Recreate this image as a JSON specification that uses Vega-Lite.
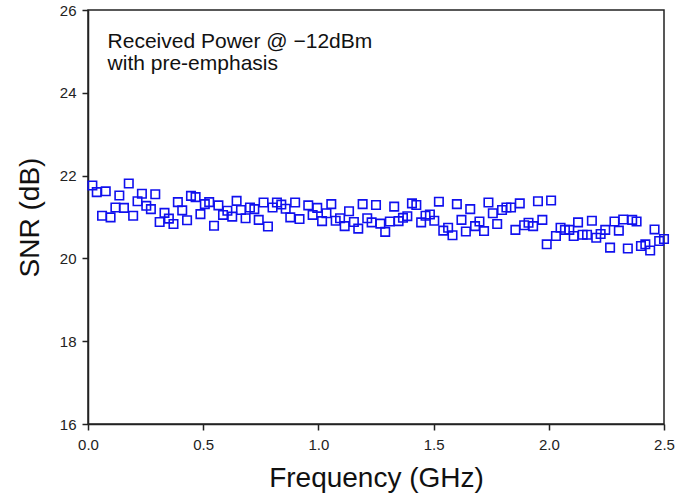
{
  "$schema": "https://vega.github.io/schema/vega-lite/v6.json",
  "width": 576,
  "height": 414,
  "autosize": {"type": "none"},
  "padding": {"left": 88, "top": 10, "right": 29, "bottom": 69},
  "background": "white",
  "config": {
    "view": {"stroke": "#222", "strokeWidth": 1.5},
    "font": "Liberation Sans",
    "axis": {
      "grid": false,
      "domainColor": "#222",
      "domainWidth": 1.5,
      "tickColor": "#222",
      "tickWidth": 1.5,
      "tickSize": 6,
      "labelFlush": false,
      "labelFont": "Liberation Sans",
      "labelFontSize": 15,
      "labelColor": "#222",
      "titleFont": "Liberation Sans",
      "titleFontSize": 28,
      "titleFontWeight": "normal",
      "titleColor": "#111"
    }
  },
  "layer": [
    {
      "data": {"values": [
        {"f":0.019,"snr":21.76},{"f":0.038,"snr":21.60},{"f":0.061,"snr":21.03},{"f":0.077,"snr":21.62},
        {"f":0.098,"snr":20.99},{"f":0.119,"snr":21.23},{"f":0.136,"snr":21.52},{"f":0.156,"snr":21.22},
        {"f":0.177,"snr":21.81},{"f":0.196,"snr":21.03},{"f":0.215,"snr":21.38},{"f":0.234,"snr":21.56},
        {"f":0.253,"snr":21.27},{"f":0.273,"snr":21.19},{"f":0.292,"snr":21.55},{"f":0.311,"snr":20.88},
        {"f":0.332,"snr":21.10},{"f":0.351,"snr":20.96},{"f":0.371,"snr":20.83},{"f":0.390,"snr":21.36},
        {"f":0.409,"snr":21.16},{"f":0.430,"snr":20.92},{"f":0.447,"snr":21.51},{"f":0.467,"snr":21.48},
        {"f":0.488,"snr":21.07},{"f":0.507,"snr":21.31},{"f":0.526,"snr":21.36},{"f":0.547,"snr":20.79},
        {"f":0.566,"snr":21.28},{"f":0.586,"snr":21.05},{"f":0.605,"snr":21.15},{"f":0.626,"snr":21.01},
        {"f":0.645,"snr":21.39},{"f":0.664,"snr":21.17},{"f":0.684,"snr":20.97},{"f":0.703,"snr":21.23},
        {"f":0.722,"snr":21.19},{"f":0.741,"snr":20.93},{"f":0.762,"snr":21.35},{"f":0.781,"snr":20.77},
        {"f":0.801,"snr":21.23},{"f":0.820,"snr":21.35},{"f":0.839,"snr":21.30},{"f":0.858,"snr":21.20},
        {"f":0.878,"snr":20.99},{"f":0.899,"snr":21.35},{"f":0.918,"snr":20.95},{"f":0.956,"snr":21.28},
        {"f":0.975,"snr":21.05},{"f":0.995,"snr":21.22},{"f":1.016,"snr":20.90},{"f":1.035,"snr":21.09},
        {"f":1.056,"snr":21.31},{"f":1.075,"snr":20.91},{"f":1.094,"snr":20.97},{"f":1.114,"snr":20.78},
        {"f":1.133,"snr":21.14},{"f":1.154,"snr":20.88},{"f":1.173,"snr":20.72},{"f":1.192,"snr":21.31},
        {"f":1.212,"snr":20.97},{"f":1.231,"snr":20.87},{"f":1.250,"snr":21.29},{"f":1.269,"snr":20.84},
        {"f":1.290,"snr":20.64},{"f":1.310,"snr":20.89},{"f":1.329,"snr":21.25},{"f":1.348,"snr":20.90},
        {"f":1.367,"snr":20.98},{"f":1.386,"snr":21.02},{"f":1.406,"snr":21.33},{"f":1.425,"snr":21.29},
        {"f":1.446,"snr":20.87},{"f":1.465,"snr":21.03},{"f":1.484,"snr":21.06},{"f":1.503,"snr":20.91},
        {"f":1.523,"snr":21.37},{"f":1.542,"snr":20.67},{"f":1.563,"snr":20.74},{"f":1.582,"snr":20.56},
        {"f":1.601,"snr":21.31},{"f":1.621,"snr":20.93},{"f":1.640,"snr":20.65},{"f":1.659,"snr":21.19},
        {"f":1.680,"snr":20.78},{"f":1.699,"snr":20.89},{"f":1.719,"snr":20.66},{"f":1.738,"snr":21.35},
        {"f":1.757,"snr":21.09},{"f":1.776,"snr":20.83},{"f":1.797,"snr":21.17},{"f":1.816,"snr":21.23},
        {"f":1.836,"snr":21.23},{"f":1.855,"snr":20.69},{"f":1.874,"snr":21.33},{"f":1.893,"snr":20.80},
        {"f":1.912,"snr":20.86},{"f":1.932,"snr":20.78},{"f":1.953,"snr":21.38},{"f":1.972,"snr":20.93},
        {"f":1.991,"snr":20.34},{"f":2.010,"snr":21.40},{"f":2.031,"snr":20.54},{"f":2.051,"snr":20.74},
        {"f":2.070,"snr":20.69},{"f":2.089,"snr":20.69},{"f":2.108,"snr":20.54},{"f":2.127,"snr":20.87},
        {"f":2.147,"snr":20.57},{"f":2.166,"snr":20.57},{"f":2.187,"snr":20.91},{"f":2.206,"snr":20.50},
        {"f":2.225,"snr":20.59},{"f":2.245,"snr":20.69},{"f":2.266,"snr":20.26},{"f":2.285,"snr":20.89},
        {"f":2.304,"snr":20.67},{"f":2.323,"snr":20.94},{"f":2.343,"snr":20.24},{"f":2.362,"snr":20.93},
        {"f":2.381,"snr":20.89},{"f":2.400,"snr":20.30},{"f":2.419,"snr":20.34},{"f":2.440,"snr":20.19},
        {"f":2.459,"snr":20.70},{"f":2.479,"snr":20.42},{"f":2.500,"snr":20.47}
      ]},
      "mark": {"type": "point", "shape": "square", "filled": false, "size": 72, "strokeWidth": 1.6, "color": "#1010ee", "opacity": 1, "clip": false},
      "encoding": {
        "x": {"field": "f", "type": "quantitative",
              "scale": {"domain": [0, 2.5], "nice": false, "zero": false},
              "axis": {"values": [0, 0.5, 1, 1.5, 2, 2.5], "format": ".1f", "labelPadding": 7, "title": "Frequency (GHz)", "titlePadding": 12}},
        "y": {"field": "snr", "type": "quantitative",
              "scale": {"domain": [16, 26], "nice": false, "zero": false},
              "axis": {"values": [16, 18, 20, 22, 24, 26], "labelPadding": 6, "title": "SNR (dB)", "titlePadding": 15}}
      }
    },
    {
      "data": {"values": [
        {"f": 0.085, "snr": 25.09, "label": "Received Power @ −12dBm"},
        {"f": 0.085, "snr": 24.54, "label": "with pre-emphasis"}
      ]},
      "mark": {"type": "text", "align": "left", "baseline": "alphabetic", "fontSize": 21, "font": "Liberation Sans", "color": "#111"},
      "encoding": {
        "x": {"field": "f", "type": "quantitative"},
        "y": {"field": "snr", "type": "quantitative"},
        "text": {"field": "label"}
      }
    }
  ]
}
